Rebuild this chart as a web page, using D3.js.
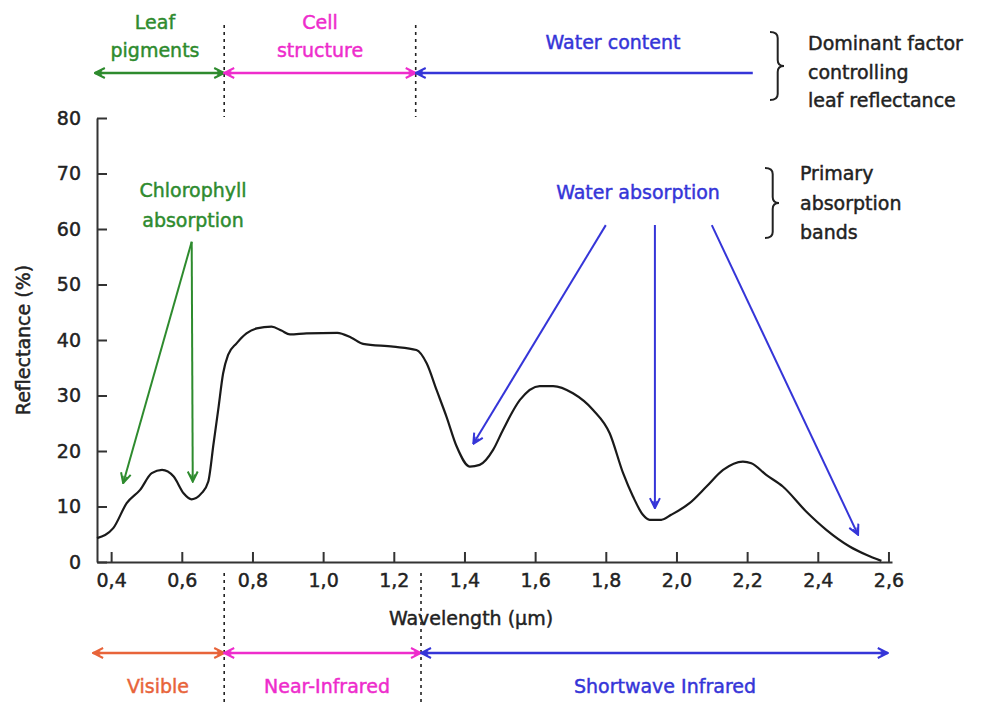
<!DOCTYPE html>
<html><head><meta charset="utf-8">
<script src="https://cdn.jsdelivr.net/npm/d3@7"></script>
<style>
html,body{margin:0;padding:0;background:#fff;}
svg text{font-family:"DejaVu Sans",Verdana,sans-serif;stroke-width:0.45px;}
</style></head>
<body>
<svg id="chart" width="987" height="702"></svg>
<script>
// ---- data ----
const wavelength = [0.36,0.406,0.444,0.482,0.515,0.544,0.577,0.605,0.628,0.656,0.675,0.69,0.703,0.717,0.731,0.755,0.783,0.812,0.854,0.882,0.906,0.953,1.04,1.08,1.113,1.198,1.264,1.293,1.321,1.349,1.378,1.415,1.443,1.481,1.509,1.557,1.613,1.651,1.707,1.764,1.811,1.849,1.877,1.905,1.924,1.957,1.985,2.037,2.085,2.132,2.188,2.212,2.254,2.301,2.367,2.424,2.49,2.537,2.58];
const reflectance = [4.3,6.1,10.6,13,16,16.6,15.4,12.4,11.3,12.4,14.5,21.4,27.4,34,37.3,39.4,41.2,42.1,42.4,41.7,41,41.2,41.3,40.4,39.3,38.8,38.2,35.8,31,26.2,20.8,17.2,17.5,20.2,23.8,29.2,31.7,31.7,30.4,27.4,23.2,16,11.8,8.5,7.6,7.6,8.5,10.6,13.6,16.6,18.1,17.8,15.7,13.6,9.1,5.8,2.8,1.3,0.2];
const xTicks = [0.4,0.6,0.8,1.0,1.2,1.4,1.6,1.8,2.0,2.2,2.4,2.6];
const yTicks = [0,10,20,30,40,50,60,70,80];

// top band: dominant factor controlling leaf reflectance
const topBandNames = [["Leaf","pigments"],["Cell","structure"],["Water content"]];
const topBandStarts = [0.354,0.72,1.262];
const topBandEnds = [0.72,1.262,2.216];
const topBandHeads = [[true,true],[true,true],[true,false]];
// bottom band: spectral regions
const bottomBandNames = ["Visible","Near-Infrared","Shortwave Infrared"];
const bottomBandStarts = [0.349,0.72,1.277];
const bottomBandEnds = [0.72,1.277,2.598];
const topSeparators = [0.72,1.262];
const bottomSeparators = [0.72,1.277];

// absorption annotations (from [wl, refl] to [wl, refl])
const chlorophyllFrom = [0.628,57.7];
const chlorophyllTo = [[0.434,14.2],[0.631,14.5]];
const waterFrom = [[1.80,60.7],[1.939,60.7],[2.10,60.7]];
const waterTo = [[1.425,21.3],[1.939,9.7],[2.514,4.9]];

// ---- drawing ----
const svg = d3.select("#chart");
const x = d3.scaleLinear().domain([0.36,2.61]).range([97,892]);
const y = d3.scaleLinear().domain([0,80]).range([562,118]);

const green="#2e8b2e", magenta="#ee2ccc", blue="#3535d8", orange="#e8643a";
const topColors=[green,magenta,blue];
const bottomColors=[orange,magenta,blue];

const defs = svg.append("defs");
function marker(id,color){
  defs.append("marker").attr("id",id).attr("viewBox","0 0 12 12")
    .attr("refX",11).attr("refY",6).attr("markerWidth",12).attr("markerHeight",12)
    .attr("markerUnits","userSpaceOnUse").attr("orient","auto-start-reverse")
    .append("path").attr("d","M1,1 L11,6 L1,11 M4,3.5 L11,6 L4,8.5")
    .attr("fill","none").attr("stroke",color).attr("stroke-width",2);
}
[["g",green],["m",magenta],["b",blue],["o",orange]].forEach(d=>marker("arr-"+d[0],d[1]));
const mk = c => c===green?"arr-g":c===magenta?"arr-m":c===blue?"arr-b":"arr-o";

function txt(sel,color){ return sel.attr("fill",color).attr("stroke",color).style("font-size","19px"); }

// axes
const xAxis = d3.axisBottom(x).tickValues(xTicks).tickSizeInner(-10).tickSizeOuter(0).tickPadding(12)
  .tickFormat(d=>d3.format(".1f")(d).replace(".",","));
const yAxis = d3.axisLeft(y).tickValues(yTicks).tickSizeInner(-10).tickSizeOuter(0).tickPadding(16);
const gx = svg.append("g").attr("transform","translate(0,562)").call(xAxis);
const gy = svg.append("g").attr("transform","translate(97,0)").call(yAxis);
[gx,gy].forEach(g=>{
  g.select(".domain").attr("stroke","#333").attr("stroke-width",2);
  g.selectAll(".tick line").attr("stroke","#333").attr("stroke-width",2);
  g.selectAll(".tick text").attr("fill","#222").attr("stroke","#222").style("font-size","19px").style("font-family","DejaVu Sans");
});

txt(svg.append("text").attr("x",471).attr("y",625).attr("text-anchor","middle"),"#222").text("Wavelength (µm)");
txt(svg.append("text").attr("transform","translate(30,340) rotate(-90)").attr("text-anchor","middle"),"#222").text("Reflectance (%)");

// curve
const line = d3.line().x((d,i)=>x(wavelength[i])).y(d=>y(d)).curve(d3.curveMonotoneX);
svg.append("path").datum(reflectance).attr("d",line).attr("fill","none")
  .attr("stroke","#1a1a1a").attr("stroke-width",2.2);

// chlorophyll annotation
chlorophyllTo.forEach(t=>{
  svg.append("line").attr("x1",x(chlorophyllFrom[0])).attr("y1",y(chlorophyllFrom[1]))
    .attr("x2",x(t[0])).attr("y2",y(t[1])).attr("stroke",green).attr("stroke-width",2)
    .attr("marker-end","url(#arr-g)");
});
txt(svg.append("text").attr("x",193).attr("y",197).attr("text-anchor","middle"),green).text("Chlorophyll");
txt(svg.append("text").attr("x",193).attr("y",227).attr("text-anchor","middle"),green).text("absorption");

// water absorption annotation
waterFrom.forEach((f,i)=>{
  const t=waterTo[i];
  svg.append("line").attr("x1",x(f[0])).attr("y1",y(f[1])).attr("x2",x(t[0])).attr("y2",y(t[1]))
    .attr("stroke",blue).attr("stroke-width",2).attr("marker-end","url(#arr-b)");
});
txt(svg.append("text").attr("x",638).attr("y",199).attr("text-anchor","middle"),blue).text("Water absorption");

// top band
topSeparators.forEach(s=>{
  svg.append("line").attr("x1",x(s)).attr("x2",x(s)).attr("y1",25).attr("y2",117)
    .attr("stroke","#222").attr("stroke-width",1.6).attr("stroke-dasharray","3,4");
});
topBandNames.forEach((nm,i)=>{
  const c=topColors[i];
  const l=svg.append("line").attr("x1",x(topBandStarts[i])).attr("x2",x(topBandEnds[i]))
    .attr("y1",73).attr("y2",73).attr("stroke",c).attr("stroke-width",2.5);
  if(topBandHeads[i][0]) l.attr("marker-start","url(#"+mk(c)+")");
  if(topBandHeads[i][1]) l.attr("marker-end","url(#"+mk(c)+")");
});
const topLabelX=[155,320,613];
topBandNames.forEach((nm,i)=>{
  nm.forEach((s,j)=>{
    const yy = nm.length===1 ? 49 : 29+j*28;
    txt(svg.append("text").attr("x",topLabelX[i]).attr("y",yy).attr("text-anchor","middle"),topColors[i]).text(s);
  });
});

// bottom band
bottomSeparators.forEach(s=>{
  svg.append("line").attr("x1",x(s)).attr("x2",x(s)).attr("y1",573).attr("y2",702)
    .attr("stroke","#222").attr("stroke-width",1.6).attr("stroke-dasharray","3,4");
});
bottomBandNames.forEach((nm,i)=>{
  const c=bottomColors[i];
  svg.append("line").attr("x1",x(bottomBandStarts[i])).attr("x2",x(bottomBandEnds[i]))
    .attr("y1",653).attr("y2",653).attr("stroke",c).attr("stroke-width",2.5)
    .attr("marker-start","url(#"+mk(c)+")").attr("marker-end","url(#"+mk(c)+")");
});
const bottomLabelX=[158,327,665];
bottomBandNames.forEach((nm,i)=>{
  txt(svg.append("text").attr("x",bottomLabelX[i]).attr("y",693).attr("text-anchor","middle"),bottomColors[i]).text(nm);
});

// braces + side notes
function brace(x0,y0,y1,w){
  const ym=(y0+y1)/2, x1=x0+w*0.55, x2=x0+w, r=6;
  return `M${x0},${y0} Q${x1},${y0} ${x1},${y0+r} L${x1},${ym-r} Q${x1},${ym} ${x2},${ym} Q${x1},${ym} ${x1},${ym+r} L${x1},${y1-r} Q${x1},${y1} ${x0},${y1}`;
}
svg.append("path").attr("d",brace(770,32,100,14)).attr("fill","none").attr("stroke","#222").attr("stroke-width",2);
svg.append("path").attr("d",brace(765,168,238,14)).attr("fill","none").attr("stroke","#222").attr("stroke-width",2);
const note1=["Dominant factor","controlling","leaf reflectance"];
const note2=["Primary","absorption","bands"];
note1.forEach((s,i)=>txt(svg.append("text").attr("x",808).attr("y",50+i*28.5),"#222").text(s));
note2.forEach((s,i)=>txt(svg.append("text").attr("x",800).attr("y",180+i*29.5),"#222").text(s));
</script>
</body></html>
